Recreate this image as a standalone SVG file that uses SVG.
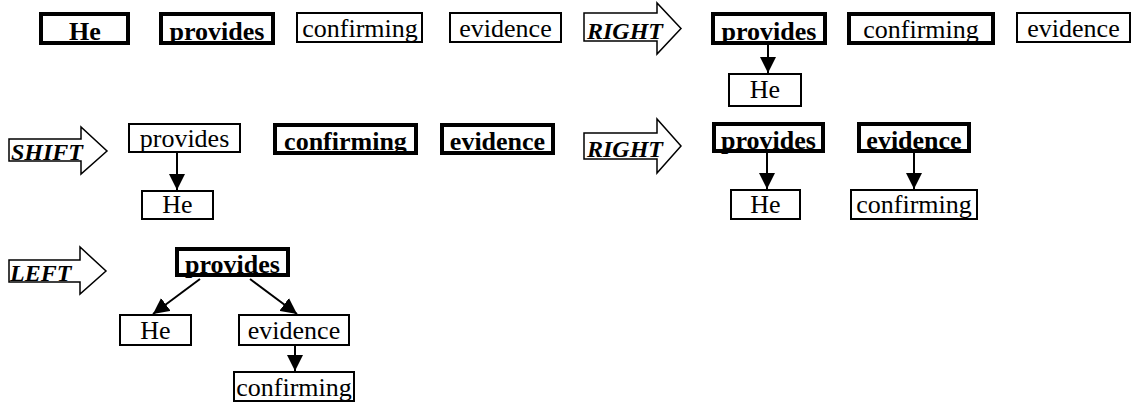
<svg xmlns="http://www.w3.org/2000/svg" width="1138" height="413" viewBox="0 0 1138 413" font-family="'Liberation Serif', Tinos, 'Times New Roman', 'DejaVu Serif', serif">
  <style>
    text { font-family: 'Liberation Serif', Tinos, 'Times New Roman', 'DejaVu Serif', serif; font-size: 26px; fill: #000; text-anchor: middle; }
    .b { font-weight: bold; }
    .op { font-weight: bold; font-style: italic; font-size: 24px; text-anchor: start; }
    .thin { fill: none; stroke: #000; stroke-width: 2; }
    .thick { fill: none; stroke: #000; stroke-width: 4; }
    .blk { fill: #fff; stroke: #000; stroke-width: 1.5; stroke-linejoin: miter; }
    .edge { stroke: #000; stroke-width: 2; fill: none; marker-end: url(#head); }
  </style>
  <defs>
    <marker id="head" markerUnits="userSpaceOnUse" markerWidth="16" markerHeight="16" refX="16" refY="8" orient="auto">
      <path d="M0,0 L16,8 L0,16 Z" fill="#000"/>
    </marker>
  </defs>
  <rect width="1138" height="413" fill="#fff"/>

  <!-- transition arrows -->
  <g id="op-right-1">
    <polygon class="blk" points="584,13 657,13 657,3 681,28.5 657,54 657,41 584,41"/>
    <text class="op" x="587" y="39">RIGHT</text>
  </g>
  <g id="op-shift">
    <polygon class="blk" points="9,139 81,139 81,127 107,151 81,174 81,161 9,161"/>
    <text class="op" x="11" y="160">SHIFT</text>
  </g>
  <g id="op-right-2">
    <polygon class="blk" points="584,133 657,133 657,119 681,146 657,173 657,159 584,159"/>
    <text class="op" x="587" y="157">RIGHT</text>
  </g>
  <g id="op-left">
    <polygon class="blk" points="9,260 80,260 80,247 106,271 80,294 80,282 9,282"/>
    <text class="op" x="10" y="281">LEFT</text>
  </g>

  <!-- stage 1 -->
  <g id="n1"><text class="b" x="85" y="40">He</text><rect class="thick" x="41" y="14" width="87" height="29"/></g>
  <g id="n2"><text class="b" x="217" y="40">provides</text><rect class="thick" x="161" y="14" width="112" height="29"/></g>
  <g id="n3"><text x="360" y="37">confirming</text><rect class="thin" x="297" y="13" width="125" height="29"/></g>
  <g id="n4"><text x="505.5" y="37">evidence</text><rect class="thin" x="450" y="13" width="111" height="29"/></g>

  <!-- stage 2 -->
  <g id="n5"><text class="b" x="769" y="40">provides</text><rect class="thick" x="713" y="14" width="112" height="29"/></g>
  <g id="n6"><text x="765" y="98">He</text><rect class="thin" x="729" y="74" width="72" height="32"/></g>
  <g id="n7"><text x="921" y="38">confirming</text><rect class="thick" x="849" y="14" width="144" height="29"/></g>
  <g id="n8"><text x="1073.5" y="37">evidence</text><rect class="thin" x="1017" y="13" width="113" height="29"/></g>

  <!-- stage 3 -->
  <g id="n9"><text x="184.5" y="147">provides</text><rect class="thin" x="129" y="124" width="111" height="28"/></g>
  <g id="n10"><text x="177.5" y="213">He</text><rect class="thin" x="142" y="191" width="71" height="28"/></g>
  <g id="n11"><text class="b" x="345.5" y="150">confirming</text><rect class="thick" x="275" y="125" width="141" height="28"/></g>
  <g id="n12"><text class="b" x="497.5" y="150">evidence</text><rect class="thick" x="442" y="125" width="111" height="28"/></g>

  <!-- stage 4 -->
  <g id="n13"><text class="b" x="768.5" y="149">provides</text><rect class="thick" x="714" y="124" width="109" height="27"/></g>
  <g id="n14"><text x="765.5" y="213">He</text><rect class="thin" x="731" y="190" width="69" height="29"/></g>
  <g id="n15"><text class="b" x="914" y="149">evidence</text><rect class="thick" x="859" y="124" width="110" height="27"/></g>
  <g id="n16"><text x="914" y="213">confirming</text><rect class="thin" x="851" y="190" width="126" height="29"/></g>

  <!-- stage 5 -->
  <g id="n17"><text class="b" x="232.5" y="273">provides</text><rect class="thick" x="177" y="249" width="111" height="26"/></g>
  <g id="n18"><text x="155.5" y="339">He</text><rect class="thin" x="120" y="315" width="71" height="30"/></g>
  <g id="n19"><text x="294" y="339">evidence</text><rect class="thin" x="239" y="315" width="110" height="30"/></g>
  <g id="n20"><text x="294" y="396">confirming</text><rect class="thin" x="234" y="372" width="120" height="29"/></g>

  <!-- dependency arcs -->
  <g id="edges">
    <line class="edge" x1="768" y1="45" x2="768" y2="73"/>
    <line class="edge" x1="177" y1="153" x2="177" y2="190"/>
    <line class="edge" x1="767" y1="153" x2="767" y2="189"/>
    <line class="edge" x1="914" y1="153" x2="914" y2="189"/>
    <line class="edge" x1="200" y1="279" x2="153" y2="314"/>
    <line class="edge" x1="250" y1="279" x2="297" y2="314"/>
    <line class="edge" x1="295" y1="346" x2="295" y2="371"/>
  </g>
</svg>
